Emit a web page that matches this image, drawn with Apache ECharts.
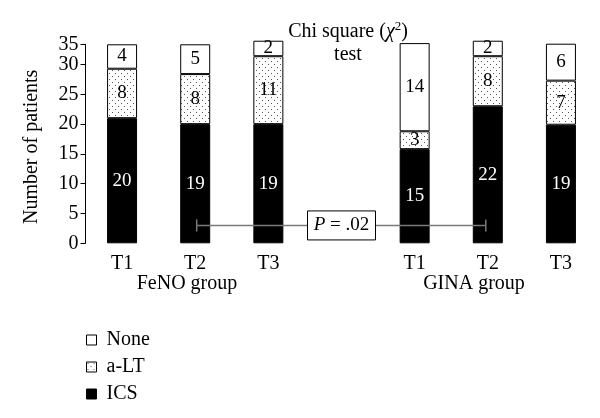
<!DOCTYPE html>
<html><head><meta charset="utf-8">
<script src="https://cdn.jsdelivr.net/npm/echarts@6/dist/echarts.min.js"></script>
<style>html,body{margin:0;padding:0;background:#fff}#c{width:600px;height:418px}</style>
</head><body><div id="c"></div>
<script>
// ---- data ----
const categories = ['T1', 'T2', 'T3', '', 'T1', 'T2', 'T3'];
const groupNames = ['FeNO group', 'GINA group'];
const legendOrder = ['None', 'a-LT', 'ICS'];
// segment heights as drawn in the figure (axis units)
const icsHeight  = [21.0, 20.0, 20.0, null, 15.8, 23.0, 19.9];
const altHeight  = [8.3, 8.4, 11.4, null, 3.0, 8.4, 7.4];
const noneHeight = [4.1, 5.0, 2.6, null, 14.8, 2.6, 6.2];
// printed patient counts
const icsCount  = [20, 19, 19, null, 15, 22, 19];
const altCount  = [8, 8, 11, null, 3, 8, 7];
const noneCount = [4, 5, 2, null, 14, 2, 6];
const yTickLabels = ['0', '5', '10', '15', '20', '25', '30', '35'];
const yTop = 33.4;
const pText = '.02';
const bracket = [1, 5, 3]; // from category index, to category index, level

// ---- chart ----
const FF = '"Liberation Serif", "Times New Roman", serif';
const FS = 20;
const pc = document.createElement('canvas'); pc.width = 6; pc.height = 6;
const g = pc.getContext('2d');
g.fillStyle = '#fff'; g.fillRect(0, 0, 6, 6);
g.fillStyle = '#555'; g.fillRect(1, 1, 1, 1); g.fillRect(4, 4, 1, 1);
const dotted = { image: pc, repeat: 'repeat' };

const toData = a => a.map(v => v == null ? '-' : v);
function barSeries(name, heights, counts, fill, labelColor) {
  return {
    name, type: 'bar', stack: 'all', barWidth: 30, clip: false,
    data: toData(heights),
    itemStyle: { color: fill, borderColor: '#000', borderWidth: 1 },
    label: {
      show: true, position: 'inside', color: labelColor, fontFamily: FF, fontSize: 19,
      formatter: p => counts[p.dataIndex] == null ? '' : String(counts[p.dataIndex])
    }
  };
}

const chart = echarts.init(document.getElementById('c'), null, { renderer: 'canvas' });
chart.setOption({
  animation: false,
  backgroundColor: '#fff',
  grid: { left: 85.5, right: 2.5, top: 44.3, bottom: 174.7, containLabel: false },
  legend: {
    orient: 'vertical', left: 86, top: 330, padding: 0, data: legendOrder,
    itemWidth: 10, itemHeight: 10, itemGap: 7, icon: 'rect',
    itemStyle: { borderColor: '#000', borderWidth: 1 },
    textStyle: { fontFamily: FF, fontSize: FS, color: '#000', lineHeight: 17, padding: [0, 0, 0, 5] }
  },
  xAxis: {
    type: 'category', data: categories,
    axisLine: { show: false }, axisTick: { show: false },
    axisLabel: { color: '#000', fontFamily: FF, fontSize: FS, margin: 10, interval: 0 }
  },
  yAxis: {
    type: 'value', min: 0, max: yTop, interval: 5,
    axisLine: { show: true, lineStyle: { color: '#000', width: 1 } },
    axisTick: { show: true, length: 5, lineStyle: { color: '#000' } },
    splitLine: { show: false },
    axisLabel: { color: '#000', fontFamily: FF, fontSize: FS, margin: 7,
      formatter: (v, i) => yTickLabels[i] },
    name: 'Number of patients', nameLocation: 'middle', nameGap: 44,
    nameTextStyle: { color: '#000', fontFamily: FF, fontSize: 20, padding: [0, 6, 0, 0] }
  },
  graphic: [
    { type: 'text', x: 348, y: 32, style: { text: '{n|Chi square (}{x|χ}{s|2}{n|)}', align: 'center', verticalAlign: 'middle',
      rich: { n: { fontFamily: FF, fontSize: FS, fill: '#000', lineHeight: 24 },
              x: { fontFamily: FF, fontSize: FS, fontStyle: 'italic', fill: '#000', lineHeight: 24 },
              s: { fontFamily: FF, fontSize: 13, fill: '#000', verticalAlign: 'top', lineHeight: 13 } } } },
    { type: 'text', x: 348, y: 55, style: { text: 'test', align: 'center', verticalAlign: 'middle', fontFamily: FF, fontSize: FS, fill: '#000' } },
    { type: 'text', x: 187, y: 284, style: { text: groupNames[0], align: 'center', verticalAlign: 'middle', fontFamily: FF, fontSize: FS, fill: '#000' } },
    { type: 'text', x: 474, y: 284, style: { text: groupNames[1], align: 'center', verticalAlign: 'middle', fontFamily: FF, fontSize: FS, fill: '#000' } }
  ],
  series: [
    barSeries('ICS', icsHeight, icsCount, '#000', '#fff'),
    barSeries('a-LT', altHeight, altCount, dotted, '#000'),
    barSeries('None', noneHeight, noneCount, '#fff', '#000'),
    {
      type: 'custom', z: 10, silent: true,
      encode: { x: [0, 1], y: 2 },
      data: [bracket],
      renderItem: (params, api) => {
        const y = api.value(2);
        const p1 = api.coord([api.value(0), y]);
        const p2 = api.coord([api.value(1), y]);
        const mid = api.coord([(api.value(0) + api.value(1)) / 2, y]);
        const ls = { stroke: '#7a7a7a', lineWidth: 1.5 };
        return { type: 'group', children: [
          { type: 'line', shape: { x1: p1[0] + 1.5, y1: p1[1], x2: p2[0] - 2, y2: p2[1] }, style: ls },
          { type: 'line', shape: { x1: p1[0] + 1.5, y1: p1[1] - 6, x2: p1[0] + 1.5, y2: p1[1] + 6 }, style: ls },
          { type: 'line', shape: { x1: p2[0] - 2, y1: p2[1] - 6, x2: p2[0] - 2, y2: p2[1] + 6 }, style: ls },
          { type: 'rect', shape: { x: mid[0] - 34, y: mid[1] - 14.5, width: 68, height: 29 }, style: { fill: '#fff', stroke: '#000', lineWidth: 1 } },
          { type: 'text', x: mid[0], y: mid[1], style: { text: '{i|P} = ' + pText, align: 'center', verticalAlign: 'middle',
              fontFamily: FF, fontSize: 19, fill: '#000', rich: { i: { fontFamily: FF, fontSize: 19, fontStyle: 'italic', fill: '#000' } } } }
        ] };
      }
    }
  ]
});
</script>
</body></html>
